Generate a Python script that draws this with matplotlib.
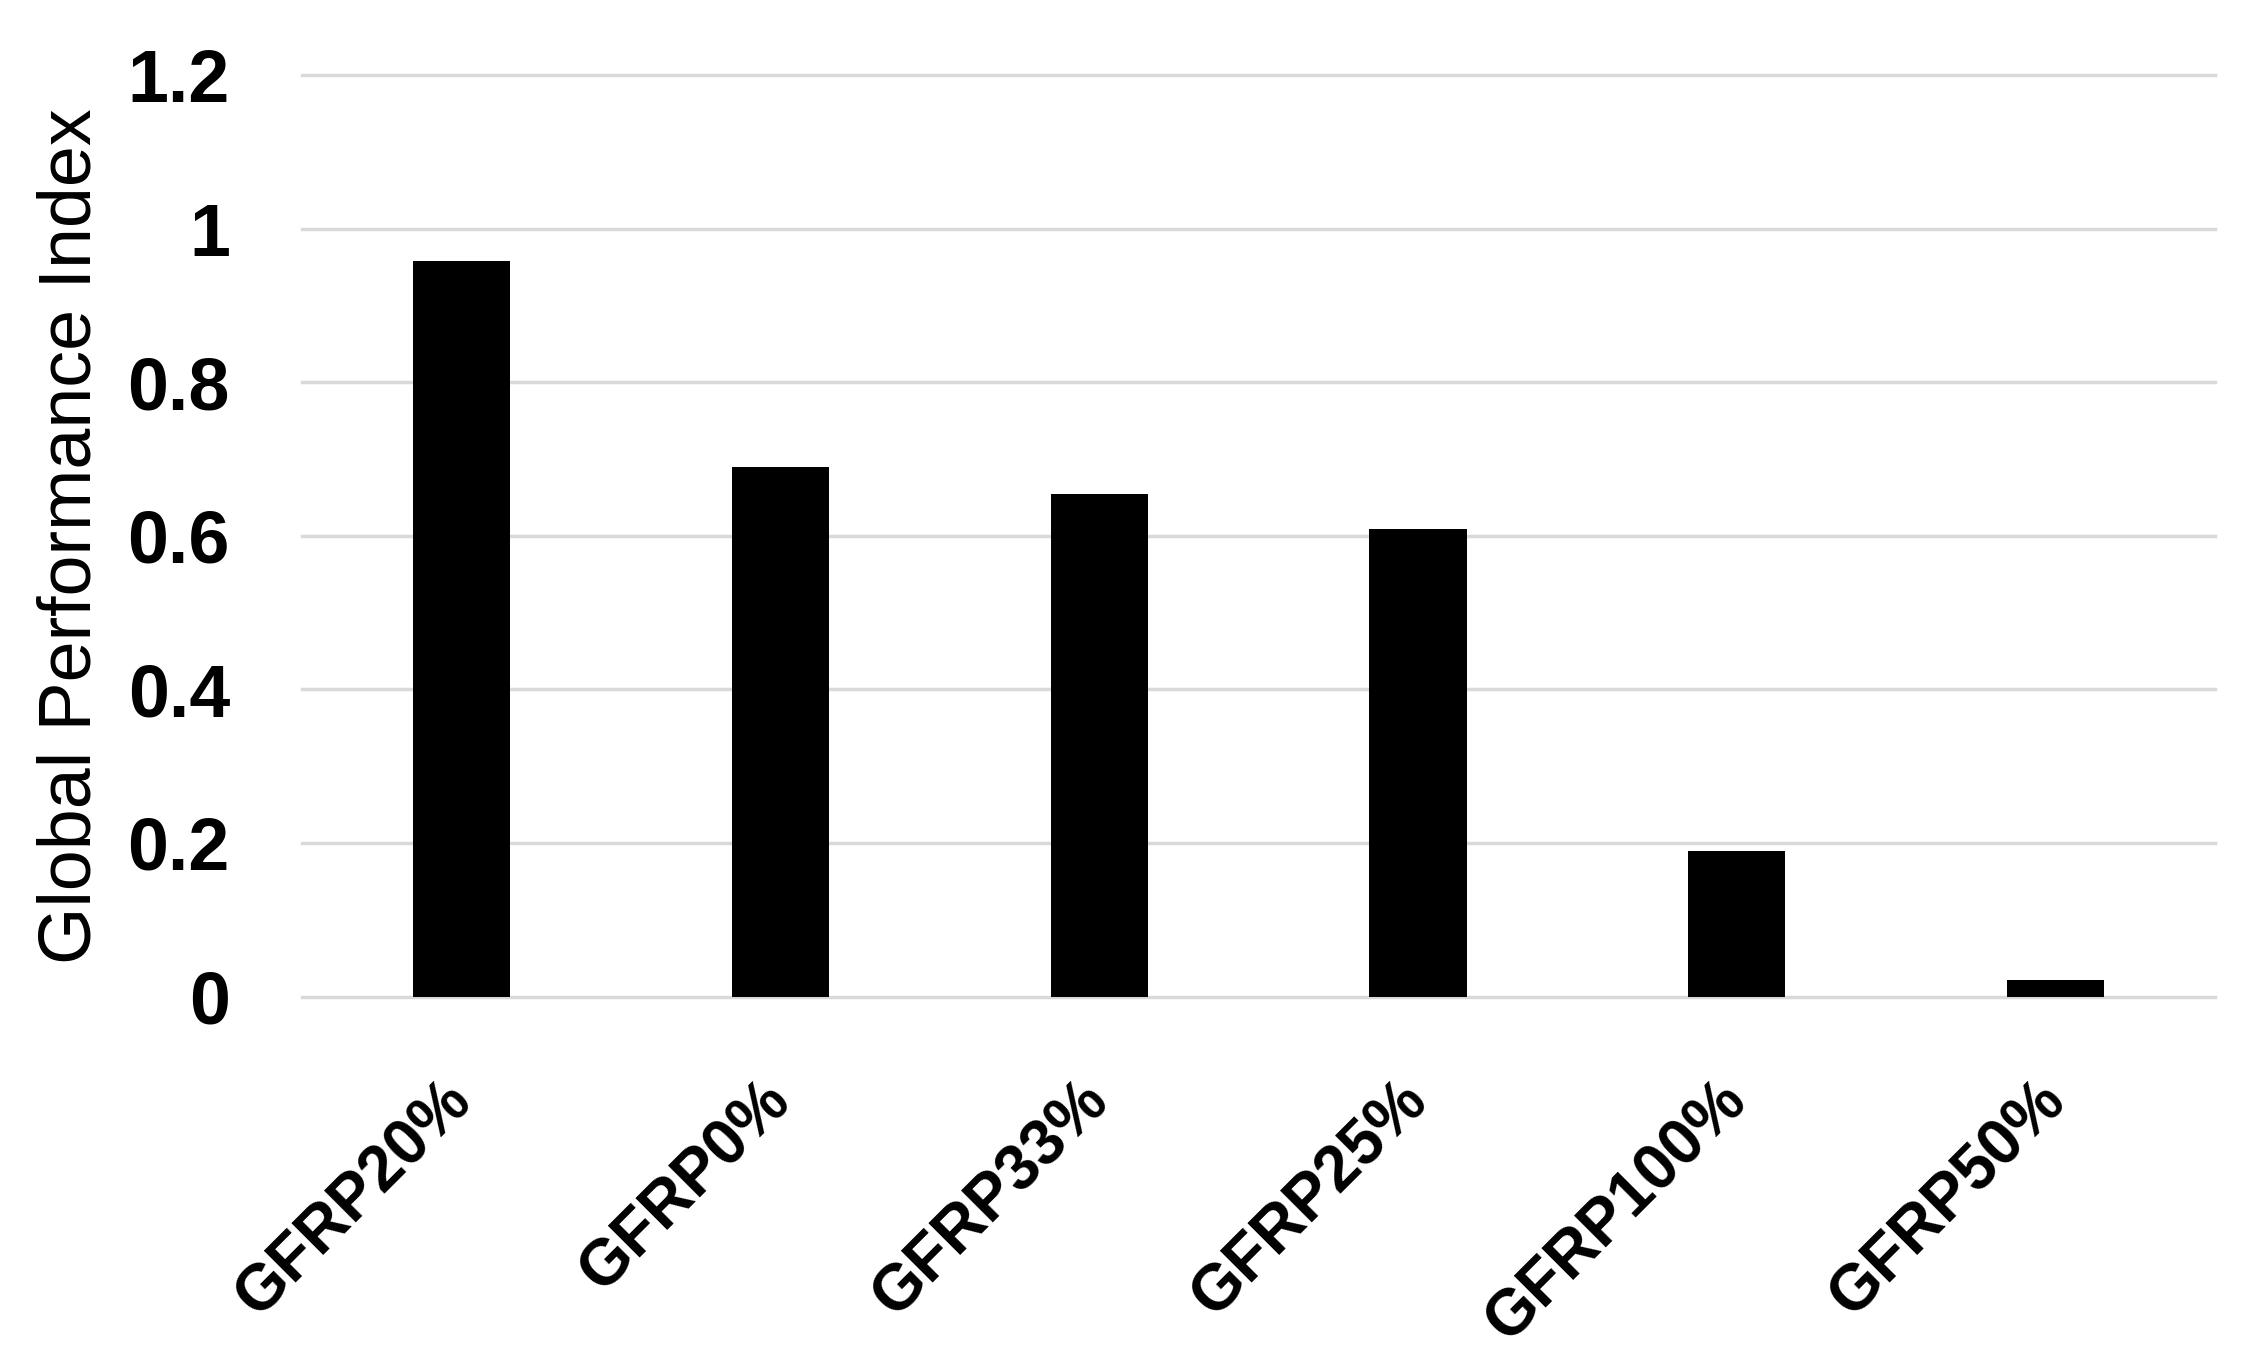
import matplotlib
matplotlib.use("Agg")
import matplotlib.pyplot as plt

categories = ["GFRP20%", "GFRP0%", "GFRP33%", "GFRP25%", "GFRP100%", "GFRP50%"]
values = [0.958, 0.690, 0.654, 0.609, 0.190, 0.021]
yticks = [0, 0.2, 0.4, 0.6, 0.8, 1.0, 1.2]
ytick_labels = ["0", "0.2", "0.4", "0.6", "0.8", "1", "1.2"]
ylabel = "Global Performance Index"

plt.rcParams['font.family'] = ['Liberation Sans', 'DejaVu Sans']

fig = plt.figure(figsize=(22.63, 13.64), dpi=100)
ax = fig.add_axes([0.1335, 0.2694, 0.8453, 0.6756])

x = list(range(len(categories)))
ax.bar(x, values, width=0.305, color="black", zorder=3)

ax.set_xlim(-0.5, len(categories) - 0.5)
ax.set_ylim(0, 1.2)
ax.set_yticks(yticks)
ax.set_yticklabels(ytick_labels, fontsize=53, fontweight="bold")
ax.set_xticks(x)
ax.set_xticklabels(categories, fontsize=46, fontweight="bold",
                   rotation=45, ha="right", va="center", rotation_mode="anchor")

ax.grid(axis="y", color="#d9d9d9", linewidth=2.5, zorder=0)
ax.set_axisbelow(True)
for gl in ax.yaxis.get_gridlines():
    gl.set_clip_on(False)
for s in ax.spines.values():
    s.set_visible(False)

ax.tick_params(axis="y", length=0, pad=52)
ax.tick_params(axis="x", length=0, pad=68)

ax.set_ylabel(ylabel, fontsize=53)
ax.yaxis.set_label_coords(-0.103, 0.5)

fig.savefig("out.png", dpi=100, facecolor="white")
